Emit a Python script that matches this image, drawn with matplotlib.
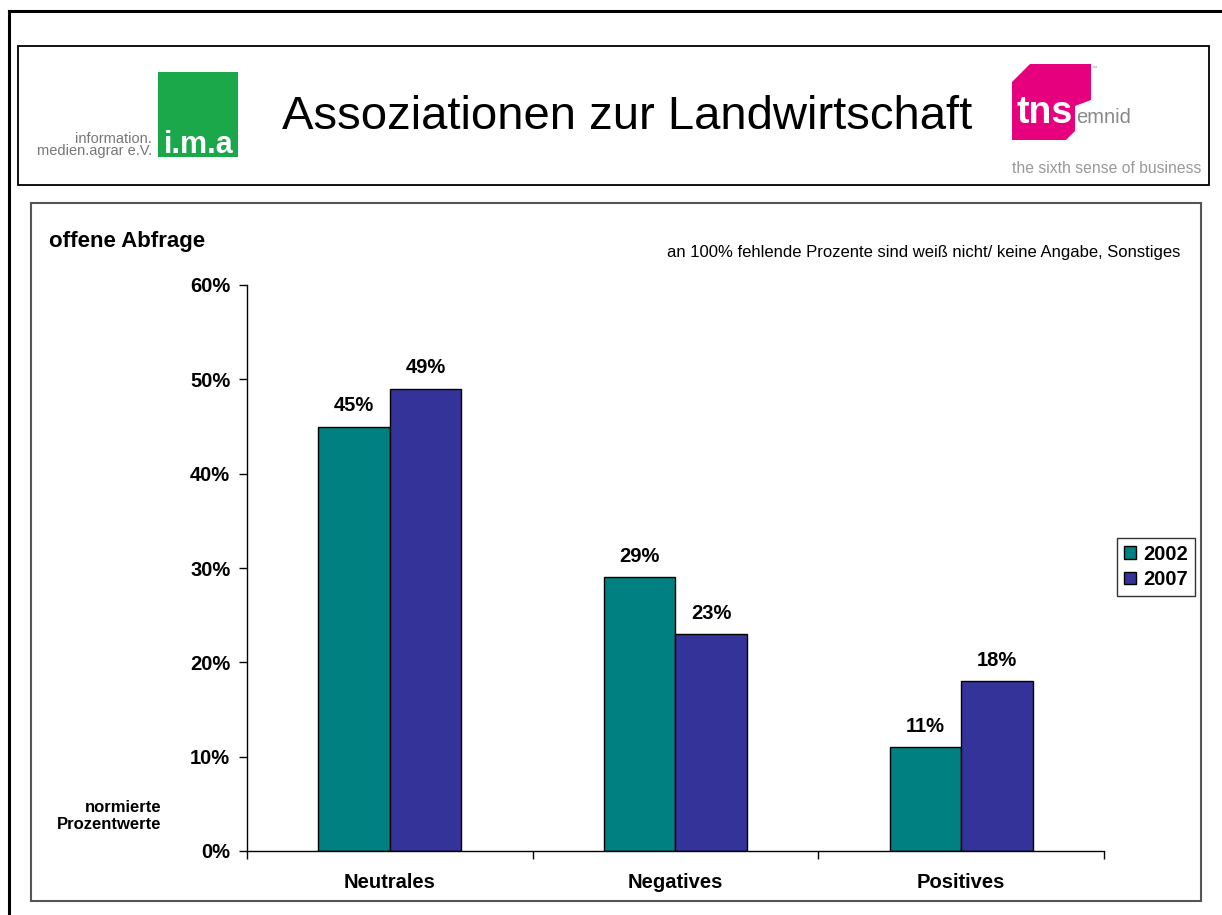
import matplotlib
matplotlib.use("Agg")
import matplotlib.pyplot as plt
from matplotlib.patches import Rectangle, Polygon
from matplotlib.lines import Line2D

categories = ["Neutrales", "Negatives", "Positives"]
years = ["2002", "2007"]
values_2002 = [0.45, 0.29, 0.11]
values_2007 = [0.49, 0.23, 0.18]
yticks = [0.0, 0.1, 0.2, 0.3, 0.4, 0.5, 0.6]
colors = ["#008080", "#333399"]

plt.rcParams['font.family'] = ['Liberation Sans', 'DejaVu Sans']

W, H = 1222, 915
fig = plt.figure(figsize=(W / 100, H / 100), dpi=100)

def fx(x):
    return x / W

def fy(y):
    return 1 - y / H

def frect(x0, y0, x1, y1, **kw):
    r = Rectangle((fx(x0), fy(y1)), fx(x1) - fx(x0), fy(y0) - fy(y1),
                  transform=fig.transFigure, **kw)
    fig.add_artist(r)
    return r

# outer border (top & left visible)
fig.add_artist(Line2D([fx(9), fx(1222)], [fy(11), fy(11)], transform=fig.transFigure, color="black", lw=2.2))
fig.add_artist(Line2D([fx(9), fx(9)], [fy(11), fy(915)], transform=fig.transFigure, color="black", lw=2.2))

# header box
frect(18, 46, 1209, 185, fill=False, edgecolor="black", lw=1.3)
# chart box
frect(31, 203, 1201, 901, fill=False, edgecolor="#555555", lw=1.5)

# header title
fig.text(fx(627), fy(117), "Assoziationen zur Landwirtschaft", ha="center", va="center",
         fontsize=34, color="black")

# i.m.a logo
frect(158, 72, 238, 157, facecolor="#1aa84a", edgecolor="none")
fig.text(fx(199), fy(153), "i.m.a", ha="center", va="baseline", fontsize=22,
         fontweight="bold", color="white")
fig.text(fx(152), fy(143), "information.", ha="right", va="baseline", fontsize=10.5, color="#777777")
fig.text(fx(152), fy(155), "medien.agrar e.V.", ha="right", va="baseline", fontsize=10.5, color="#777777")

# tns emnid logo
poly = Polygon([(fx(1030), fy(64)), (fx(1091), fy(64)), (fx(1091), fy(100)),
                (fx(1075), fy(106)), (fx(1075), fy(131)), (fx(1066), fy(140)),
                (fx(1012), fy(140)), (fx(1012), fy(82))],
               closed=True, transform=fig.transFigure, facecolor="#e6007e", edgecolor="none")
fig.add_artist(poly)
fig.text(fx(1045), fy(123), "tns", ha="center", va="baseline", fontsize=27,
         fontweight="bold", color="white")
fig.text(fx(1076), fy(123), "emnid", ha="left", va="baseline", fontsize=14.5, color="#888888")
fig.text(fx(1012), fy(173), "the sixth sense of business", ha="left", va="baseline",
         fontsize=11.3, color="#999999")
fig.text(fx(1094), fy(70), "™", ha="center", va="baseline", fontsize=4, color="#999999")

# chart axes
ax = fig.add_axes([fx(247), fy(851), fx(1104) - fx(247), fy(285) - fy(851)])
n = len(categories)
bw = 0.25
xs = list(range(n))
for i, (vals, col, yr) in enumerate(zip([values_2002, values_2007], colors, years)):
    pos = [x + (i - 0.5) * bw for x in xs]
    ax.bar(pos, vals, width=bw, color=col, edgecolor="black", linewidth=1.0, label=yr, zorder=2)
    for p, v in zip(pos, vals):
        ax.text(p, v + 0.012, f"{round(v * 100)}%", ha="center", va="bottom",
                fontsize=14.5, fontweight="bold")

ax.set_xlim(-0.5, n - 0.5)
ax.set_ylim(0, 0.6)
ax.set_yticks(yticks)
ax.set_yticklabels([f"{round(t * 100)}%" for t in yticks], fontsize=14.5, fontweight="bold")
ax.set_xticks([x - 0.5 for x in range(n + 1)])
ax.set_xticklabels([])
ax.set_xticks(xs, minor=True)
ax.set_xticklabels(categories, minor=True, fontsize=14.5, fontweight="bold")
ax.tick_params(axis="x", which="minor", length=0, pad=16)
ax.tick_params(axis="x", which="major", length=6, direction="out", width=1)
ax.tick_params(axis="y", length=6, direction="out", width=1, pad=6)
for s in ["top", "right"]:
    ax.spines[s].set_visible(False)
for s in ["left", "bottom"]:
    ax.spines[s].set_linewidth(1)

leg = ax.legend(loc="center left", bbox_to_anchor=((1117 - 247) / (1104 - 247), (851 - 567) / (851 - 285)),
                frameon=True, fancybox=False, edgecolor="black", prop={"weight": "bold", "size": 14.5},
                handlelength=0.6, handleheight=0.6, handletextpad=0.35, borderpad=0.35,
                labelspacing=0.3, borderaxespad=0)
leg.get_frame().set_linewidth(1)

fig.text(fx(49), fy(242), "offene Abfrage", ha="left", va="center", fontsize=16, fontweight="bold")
fig.text(fx(1180), fy(252), "an 100% fehlende Prozente sind weiß nicht/ keine Angabe, Sonstiges",
         ha="right", va="center", fontsize=12)
fig.text(fx(161), fy(816), "normierte\nProzentwerte", ha="right", va="center", fontsize=12,
         fontweight="bold", linespacing=1.1)

fig.savefig("out.png", dpi=100)
